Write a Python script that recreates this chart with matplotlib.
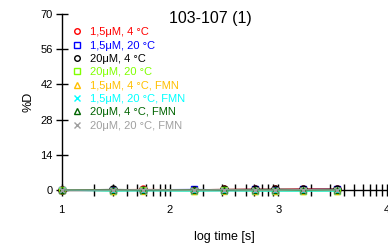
import numpy as np
import matplotlib
matplotlib.use("Agg")
import matplotlib.pyplot as plt
from matplotlib.ticker import FixedLocator

plt.rcParams['font.family'] = ['Liberation Sans', 'DejaVu Sans']

# log10(time [s]) for each sample
log_time = [1.0, 1.47, 1.75, 2.22, 2.5, 2.78, 2.97, 3.23, 3.54]

series_names = ["1,5μM, 4 °C", "1,5μM, 20 °C", "20μM, 4 °C", "20μM, 20 °C",
                "1,5μM, 4 °C, FMN", "1,5μM, 20 °C, FMN", "20μM, 4 °C, FMN",
                "20μM, 20 °C, FMN"]
d_1_5_4 = [0.0, 0.1, 0.2, 0.1, 0.2, 0.3, 0.2, 0.4, 0.3]
d_1_5_20 = [0.0, 0.1, 0.1, 0.2, 0.1, 0.2, 0.1, 0.2, 0.2]
d_20_4 = [0.0, 0.2, 0.1, 0.1, 0.2, 0.2, 0.3, 0.2, 0.3]
d_20_20 = [0.0, -0.2, -0.1, -0.2, -0.1, -0.2, -0.2, -0.3, -0.2]
d_1_5_4_fmn = [0.0, -0.3, -0.2, -0.3, -0.2, -0.3, -0.3, -0.2, -0.3]
d_1_5_20_fmn = [0.0, -0.4, -0.3, -0.4, -0.3, -0.4, -0.4, -0.4, -0.4]
d_20_4_fmn = [0.0, 0.1, 0.0, 0.1, 0.0, 0.1, 0.1, 0.0, 0.1]
d_20_20_fmn = [0.0, 0.0, 0.1, 0.0, 0.1, 0.0, 0.0, 0.1, 0.0]

series_values = [d_1_5_4, d_1_5_20, d_20_4, d_20_20,
                 d_1_5_4_fmn, d_1_5_20_fmn, d_20_4_fmn, d_20_20_fmn]
colors = ["#ff0000", "#0000ff", "#000000", "#80ff00",
          "#ffc000", "#00ffff", "#006400", "#a0a0a0"]
markers = ["o", "s", "o", "s", "^", "x", "^", "x"]

y_ticks = [0, 14, 28, 42, 56, 70]
x_ticks = [1, 2, 3, 4]
x_ticklabels = ["1", "2", "3", "4"]

fig = plt.figure(figsize=(3.88, 2.43), dpi=100)
ax = fig.add_axes([61.7 / 388, 53 / 243, 325 / 388, 176 / 243])

handles = []
for name, vals, c, m in zip(series_names, series_values, colors, markers):
    h, = ax.plot(log_time, vals, color=c, lw=0.9, marker=m, ms=5,
                 markerfacecolor='none' if m != 'x' else c,
                 markeredgecolor=c, mew=1.0, clip_on=False, label=name,
                 zorder=3)
    handles.append(h)

ax.set_xlim(1, 4)
ax.set_ylim(0, 70)
ax.set_yticks(y_ticks)
ax.set_xticks(x_ticks)
ax.set_xticklabels(x_ticklabels)
minor = [np.log10(m * 10 ** d) for d in (1, 2, 3) for m in range(2, 10)]
ax.xaxis.set_minor_locator(FixedLocator(minor))

for s in ("top", "right"):
    ax.spines[s].set_visible(False)
ax.spines["left"].set_linewidth(1.0)
ax.spines["bottom"].set_linewidth(1.0)

ax.tick_params(axis='both', which='major', direction='inout', length=9,
               width=1.0, labelsize=8, pad=2)
ax.tick_params(axis='x', which='minor', direction='inout', length=9, width=1.0)
ax.tick_params(axis='x', which='major', pad=6)

ax.set_ylabel("%D", fontsize=9, labelpad=4)
ax.set_xlabel("log time [s]", fontsize=9, labelpad=12)

leg = ax.legend(handles=handles, loc='upper left', bbox_to_anchor=(0.024, 0.95),
                frameon=False, fontsize=8, handlelength=0.5,
                handletextpad=0.9, labelspacing=0.3, borderaxespad=0)
for txt, c in zip(leg.get_texts(), colors):
    txt.set_color(c)
for lh in leg.legend_handles:
    lh.set_linestyle('none')
    lh.set_markersize(4)

fig.text(210 / 388, 1 - 19 / 243, "103-107 (1)", fontsize=11.5,
         ha='center', va='center')

fig.savefig("out.png", dpi=100)
